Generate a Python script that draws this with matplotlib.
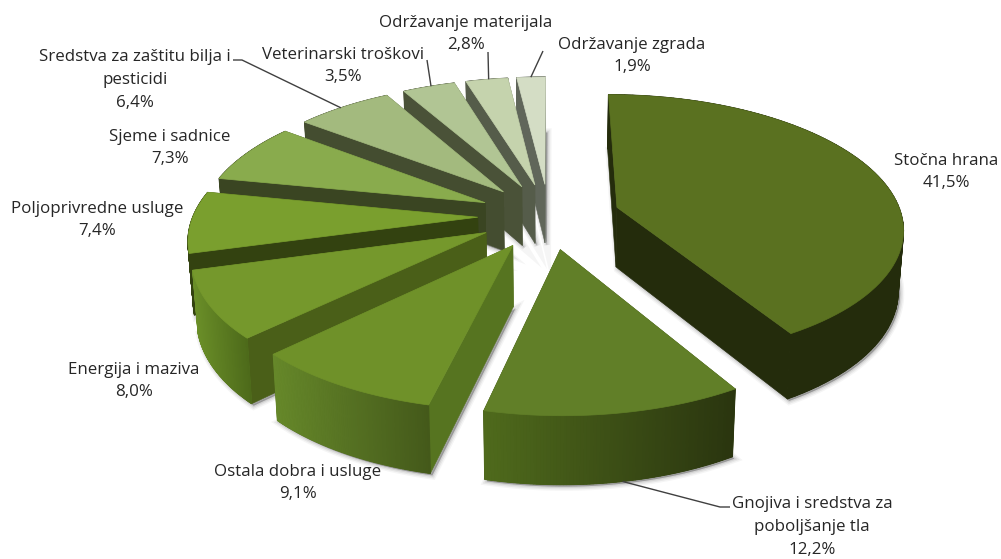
import numpy as np
import matplotlib
matplotlib.use("Agg")
import matplotlib.pyplot as plt
from matplotlib.patches import Polygon
from matplotlib.colors import to_rgb

categories = ["Stočna hrana", "Gnojiva i sredstva za\npoboljšanje tla", "Ostala dobra i usluge",
              "Energija i maziva", "Poljoprivredne usluge", "Sjeme i sadnice",
              "Sredstva za zaštitu bilja i\npesticidi", "Veterinarski troškovi",
              "Održavanje materijala", "Održavanje zgrada"]
values = [41.5, 12.2, 9.1, 8.0, 7.4, 7.3, 6.4, 3.5, 2.8, 1.9]
value_labels = ["41,5%", "12,2%", "9,1%", "8,0%", "7,4%", "7,3%", "6,4%", "3,5%", "2,8%", "1,9%"]

top_colors = ["#5a7120", "#617f28", "#6f9129", "#75982c", "#7a9f2e", "#89ab4d",
              "#a3ba7e", "#b1c594", "#c5d3ad", "#d4ddc5"]
wall_colors = ["#242c0c", "#3a4a14", "#567420", "#4a5f18", "#334210", "#3a4522",
               "#444d30", "#4a5238", "#555c4a", "#60665a"]
rim_left = ["#242c0c", "#4f6a1c", "#66882a", "#6a8e28", "#334210", "#3a4522",
            "#444d30", "#4a5238", "#555c4a", "#60665a"]
rim_right = ["#242c0c", "#2a350f", "#44591a", "#4d6a1a", "#334210", "#3a4522",
             "#444d30", "#4a5238", "#555c4a", "#60665a"]

# label centres (px) and leader lines as (slice fraction along rim, elbow list)
label_pos = [(946, 172), (812, 527), (298, 483), (134, 381), (97, 220), (170, 148),
             (135, 80), (343, 66), (466, 34), (632, 56)]
leaders = {1: (0.48, [(720, 507), (730, 507)]),
           6: (0.48, [(242, 60), (233, 60)]),
           7: (0.55, [(427, 60)]),
           8: (0.55, [(488, 52)]),
           9: (0.50, [(543, 51)])}

W, H = 1001, 559
CX, CY, R, XS, TILT, D, EXP, DEPTH = 549, 216, 260, 1.095, 0.505, 1800, 65, 60

fig = plt.figure(figsize=(W / 100, H / 100), dpi=100)
ax = fig.add_axes([0, 0, 1, 1])
ax.set_xlim(0, W)
ax.set_ylim(H, 0)
ax.axis("off")


def project(x, y, bottom=False):
    s = 1 / (1 - y / D)
    sx = XS * x * s
    sy = TILT * y * s
    if bottom:
        sx = sx * 0.985
        sy = sy + DEPTH * s ** 0.7
    return np.column_stack([CX + sx, CY + sy])


frac = np.array(values) / sum(values)
edges = np.concatenate([[0], np.cumsum(frac)]) * 2 * np.pi


def slice_pts(i, n=80):
    a0, a1 = edges[i], edges[i + 1]
    mid = (a0 + a1) / 2
    ox, oy = EXP * np.sin(mid), -EXP * np.cos(mid)
    th = np.linspace(a0, a1, n)
    return ox, oy, ox + R * np.sin(th), oy - R * np.cos(th)


# shadows
for i in range(len(values)):
    ox, oy, rx, ry = slice_pts(i)
    xs = np.r_[ox, rx]
    ys = np.r_[oy, ry]
    b = project(xs, ys, bottom=True) + np.array([2, 2])
    for lw, al in ((6, 0.04), (4, 0.06), (2, 0.08)):
        ax.add_patch(Polygon(b, closed=True, facecolor=(0, 0, 0, 0.10), edgecolor=(0, 0, 0, al),
                             lw=lw, zorder=1))

# slices, back to front
z = 2
for i in range(len(values) - 1, -1, -1):
    ox, oy, rx, ry = slice_pts(i)
    wall = wall_colors[i]
    ap_t = project(np.array([ox]), np.array([oy]))
    ap_b = project(np.array([ox]), np.array([oy]), bottom=True)
    tp = project(rx, ry)
    bt = project(rx, ry, bottom=True)
    for j in (0, -1):
        ax.add_patch(Polygon(np.vstack([ap_t, tp[j], bt[j], ap_b]), closed=True, facecolor=wall,
                             edgecolor=wall, lw=0.4, zorder=z))
    cl, cr = np.array(to_rgb(rim_left[i])), np.array(to_rgb(rim_right[i]))
    xmin, xmax = tp[:, 0].min(), tp[:, 0].max()
    mean_c = (cl + cr) / 2
    ax.add_patch(Polygon(np.vstack([tp, bt[::-1]]), closed=True, facecolor=mean_c,
                         edgecolor=mean_c, lw=0.4, zorder=z))
    for k in range(len(rx) - 1):
        t = ((tp[k, 0] + tp[k + 1, 0]) / 2 - xmin) / max(xmax - xmin, 1)
        c = cl + (cr - cl) * t
        ax.add_patch(Polygon(np.vstack([tp[k], tp[k + 1], bt[k + 1], bt[k]]), closed=True,
                             facecolor=c, edgecolor=c, lw=0.8, zorder=z))
    ax.add_patch(Polygon(np.vstack([ap_t, tp]), closed=True, facecolor=top_colors[i],
                         edgecolor=top_colors[i], lw=0.5, zorder=z))
    z += 1

# leader lines
for i, (f, pts) in leaders.items():
    ox, oy, rx, ry = slice_pts(i)
    n = int(f * (len(rx) - 1))
    anchor = project(rx[n:n + 1], ry[n:n + 1], bottom=(i == 1))[0]
    line = np.array([tuple(anchor)] + pts)
    ax.plot(line[:, 0], line[:, 1], color="#404040", lw=1.0, zorder=20,
            solid_capstyle="butt")

# labels
for i, name in enumerate(categories):
    x, y = label_pos[i]
    ax.text(x, y, name + "\n" + value_labels[i], ha="center", va="center", family="Open Sans",
            fontsize=12.2, color="#262626", linespacing=1.58, zorder=30)

fig.savefig("out.png", dpi=100)
